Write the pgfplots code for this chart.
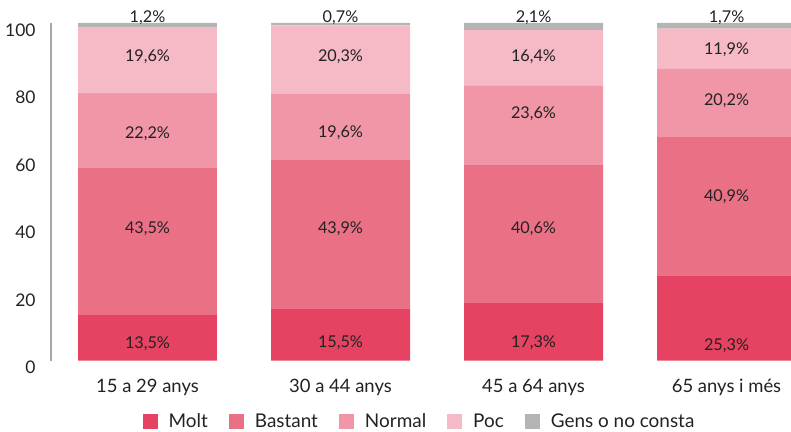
\documentclass[border=0pt]{standalone}
\usepackage{fontspec}
\setmainfont{Lato}
\usepackage{pgfplots}
\usepackage{pgfplotstable}
\pgfplotsset{compat=1.18}

\definecolor{molt}{RGB}{229,67,97}
\definecolor{bastant}{RGB}{234,112,134}
\definecolor{normal}{RGB}{240,150,166}
\definecolor{poc}{RGB}{246,186,198}
\definecolor{gens}{RGB}{180,180,180}
\definecolor{txt}{RGB}{34,34,34}

% shares by age group (percent)
\pgfplotstableread{
x molt bastant normal poc gens
0 13.5 43.5 22.2 19.6 1.2
1 15.5 43.9 19.6 20.3 0.7
2 17.3 40.6 23.6 16.4 2.1
3 25.3 40.9 20.2 11.9 1.7
}\shares

% where the value labels sit (y) and what they say (v)
\pgfplotstableread{
x y v
0 4.9 13.5
0 39.0 43.5
0 67.1 22.2
0 89.9 19.6
0 101.5 1.2
1 5.2 15.5
1 39.0 43.9
1 67.4 19.6
1 89.9 20.3
1 101.5 0.7
2 5.2 17.3
2 39.0 40.6
2 73.1 23.6
2 89.9 16.4
2 101.5 2.1
3 4.3 25.3
3 48.5 40.9
3 76.9 20.2
3 92.0 11.9
3 101.5 1.7
}\labels

\pgfplotsset{
  base/.style={
    scale only axis,
    width=740bp, height=337.7bp,
    xmin=-0.5, xmax=3.334,
    ymin=0, ymax=100,
  },
}

\begin{document}
\begin{tikzpicture}
\begin{axis}[
  base,
  ybar stacked,
  bar width=0.72,
  axis lines*=left,
  x axis line style={draw=none},
  y axis line style={draw=gray!70, line width=1.2bp},
  major tick length=0pt,
  xtick={0,1,2,3},
  xticklabels={15 a 29 anys, 30 a 44 anys, 45 a 64 anys, 65 anys i més},
  ytick={0,20,40,60,80,100},
  tick label style={font=\fontsize{18.5}{20}\selectfont, text=txt},
  xticklabel style={yshift=-15bp},
  yticklabel style={font=\fontsize{17.5}{20}\selectfont, xshift=-12bp, yshift=-7bp},
  /pgf/number format/assume math mode=true,
  legend columns=-1,
  legend style={draw=none, fill=none, at={(0.498,-0.1805)}, anchor=center,
    font=\fontsize{19}{20}\selectfont, text=txt, nodes={inner ysep=0bp},
    /tikz/every odd column/.append style={column sep=9bp},
    /tikz/every even column/.append style={column sep=19bp}},
  legend image code/.code={\fill[#1,/tikz/.cd,draw=none] (0bp,-7.5bp) rectangle (15bp,7.5bp);},
]
\addplot[fill=molt, draw=none] table[x=x, y=molt] {\shares};
\addlegendentry{Molt}
\addplot[fill=bastant, draw=none] table[x=x, y=bastant] {\shares};
\addlegendentry{Bastant}
\addplot[fill=normal, draw=none] table[x=x, y=normal] {\shares};
\addlegendentry{Normal}
\addplot[fill=poc, draw=none] table[x=x, y=poc] {\shares};
\addlegendentry{Poc}
\addplot[fill=gens, draw=none] table[x=x, y=gens] {\shares};
\addlegendentry{Gens o no consta}
\coordinate (o) at (rel axis cs:0,0);
\end{axis}

\begin{axis}[base, hide axis, clip=false]
\addplot[draw=none, mark=none, point meta=explicit,
  nodes near coords={\pgfmathprintnumber{\pgfplotspointmeta}\%},
  nodes near coords align=center,
  every node near coord/.append style={font=\fontsize{16.3}{18}\selectfont, text=txt,
    /pgf/number format/.cd, fixed, fixed zerofill, precision=1, use comma, assume math mode=true}]
  table[x=x, y=y, meta=v] {\labels};
\end{axis}
\pgfresetboundingbox
\path[use as bounding box] ([shift={(-51bp,-71.3bp)}]o) rectangle ++(791bp,432bp);
\end{tikzpicture}
\end{document}
